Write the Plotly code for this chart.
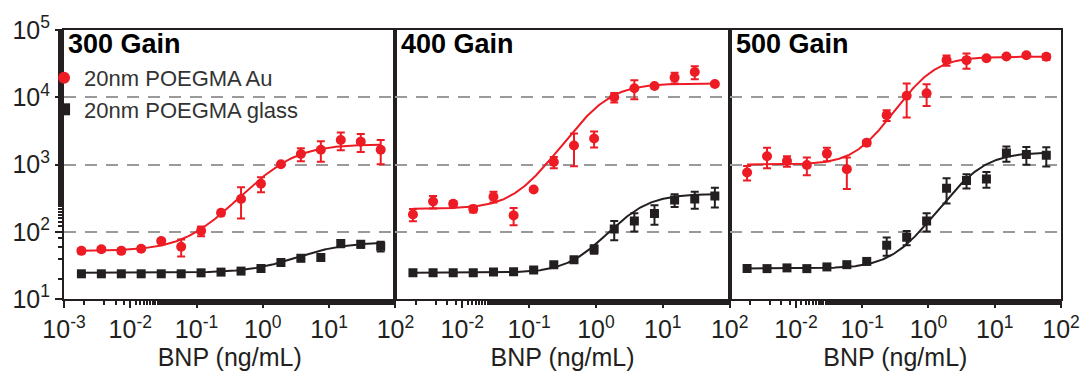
import numpy as np
import plotly.graph_objects as go
from plotly.subplots import make_subplots

# BNP concentrations (ng/mL), two-fold dilution series
bnp = [0.00183, 0.00366, 0.00732, 0.0146, 0.0293, 0.0586, 0.117, 0.234,
       0.469, 0.9375, 1.875, 3.75, 7.5, 15, 30, 60]
panel_titles = ["300 Gain", "400 Gain", "500 Gain"]
series_names = ["20nm POEGMA Au", "20nm POEGMA glass"]

# 300 gain
au_300 = [52, 55, 52, 56, 73, 60, 103, 191, 307, 518, 1007, 1430, 1655, 2310, 2186, 1655]
au_300_err = [4, 4, 4, 4, 5, 17, 17, 15, 150, 130, 60, 310, 560, 680, 650, 650]
glass_300 = [23.7, 23.7, 23.7, 23.7, 23.7, 23.7, 24.5, 25.1, 26, 28.3, 35, 40.5, 41.4, 66.6, 65, 60.8]
glass_300_err = [1, 1, 1, 1, 1, 1, 1, 1, 1, 1.5, 3, 4, 3, 8, 7, 10]

# 400 gain
au_400 = [180, 281, 260, 218, 332, 175, 424, 1087, 1914, 2440, 9980, 13600, 14700, 19600, 23700, 15700]
au_400_err = [37, 60, 25, 25, 60, 50, 20, 210, 970, 650, 1600, 4300, 700, 3600, 5200, 800]
glass_400 = [24.5, 24.5, 24.5, 24.5, 25.1, 25.4, 26.9, 32.4, 38.2, 55, 110, 145, 187, 297, 307, 340]
glass_400_err = [1, 1, 1, 1, 1, 1, 1.5, 2, 3, 8, 35, 44, 60, 63, 88, 110]

# 500 gain
au_500 = [762, 1327, 1124, 984, 1452, 853, 2113, 5420, 10500, 11500, 35600, 35600, 38100, 40300, 42100, 39900]
au_500_err = [185, 450, 200, 290, 330, 420, 200, 1000, 5500, 4100, 6300, 9000, 1500, 2000, 2500, 4000]
glass_500 = [28.3, 28.3, 29, 28.3, 30, 32.4, 36.2, 63, 83, 145, 443, 578, 611, 1479, 1403, 1371]
glass_500_err = [1, 1, 1, 1, 1, 1.5, 2, 19, 20, 44, 180, 140, 160, 380, 410, 440]

# four-parameter logistic fit parameters: bottom, top, EC50, Hill slope
fit_au_300 = [52, 2000, 1.9, 1.25]
fit_glass_300 = [24.5, 70, 5.0, 1.2]
fit_au_400 = [220, 16000, 1.2, 1.55]
fit_glass_400 = [24.5, 365, 3.55, 1.56]
fit_au_500 = [1000, 40000, 0.9, 1.73]
fit_glass_500 = [28.5, 1520, 4.95, 1.56]

x_ticks = [0.001, 0.01, 0.1, 1, 10, 100]
x_ticktext = ["10<sup>-3</sup>", "10<sup>-2</sup>", "10<sup>-1</sup>", "10<sup>0</sup>",
              "10<sup>1</sup>", "10<sup>2</sup>"]
y_ticks = [10, 100, 1000, 10000, 100000]
y_ticktext = ["10<sup>1</sup>", "10<sup>2</sup>", "10<sup>3</sup>", "10<sup>4</sup>", "10<sup>5</sup>"]

RED = "#ED1C24"
BLACK = "#231F20"
FONT = "Arial, Liberation Sans, sans-serif"

panels = [
    (au_300, au_300_err, glass_300, glass_300_err, fit_au_300, fit_glass_300),
    (au_400, au_400_err, glass_400, glass_400_err, fit_au_400, fit_glass_400),
    (au_500, au_500_err, glass_500, glass_500_err, fit_au_500, fit_glass_500),
]

def logistic(x, p):
    b, t, c, h = p
    x = np.asarray(x, dtype=float)
    return b + (t - b) / (1 + (c / x) ** h)

fig = make_subplots(rows=1, cols=3, shared_yaxes=True, horizontal_spacing=0)
doms = [[0, 0.3324], [0.3324, 0.6677], [0.6677, 1]]

xfit = np.logspace(np.log10(bnp[0]), np.log10(bnp[-1]), 300)

for i, (au, aue, gl, gle, fa, fg) in enumerate(panels):
    col = i + 1
    for yv, ye, fp, color, sym, size in [
        (gl, gle, fg, BLACK, "square", 9),
        (au, aue, fa, RED, "circle", 10),
    ]:
        fig.add_trace(go.Scatter(x=xfit, y=logistic(xfit, fp), mode="lines",
                                 line=dict(color=color, width=2), showlegend=False,
                                 hoverinfo="skip"), row=1, col=col)
        fig.add_trace(go.Scatter(x=bnp, y=yv, mode="markers",
                                 marker=dict(color=color, symbol=sym, size=size),
                                 error_y=dict(type="data", array=ye, color=color,
                                              thickness=2, width=4),
                                 showlegend=False), row=1, col=col)

# legend entries
fig.add_trace(go.Scatter(x=[None], y=[None], mode="markers", name=series_names[0],
                         marker=dict(color=RED, symbol="circle", size=8)), row=1, col=1)
fig.add_trace(go.Scatter(x=[None], y=[None], mode="markers", name=series_names[1],
                         marker=dict(color=BLACK, symbol="square", size=7)), row=1, col=1)

for i in range(3):
    xa = "xaxis" if i == 0 else f"xaxis{i+1}"
    tv = x_ticks if i == 0 else x_ticks[1:]
    tt = x_ticktext if i == 0 else x_ticktext[1:]
    fig.layout[xa].update(
        type="log", range=[-3, 2], domain=doms[i],
        tickvals=tv, ticktext=tt, ticks="outside", ticklen=7, tickwidth=2,
        tickcolor=BLACK, showline=True, linecolor=BLACK, linewidth=2, mirror=True,
        showgrid=False, zeroline=False,
        minor=dict(ticks="outside", ticklen=4, tickwidth=1.5, tickcolor=BLACK, showgrid=False),
        tickfont=dict(size=25, color=BLACK, family=FONT),
        title=dict(text="BNP (ng/mL)", font=dict(size=25, color=BLACK, family=FONT), standoff=2),
    )
    ya = "yaxis" if i == 0 else f"yaxis{i+1}"
    fig.layout[ya].update(
        type="log", range=[1, 5], showline=True, linecolor=BLACK, linewidth=2, mirror=True,
        tickvals=y_ticks, ticktext=y_ticktext,
        showgrid=True, gridcolor="#9A9A9A", gridwidth=2, griddash="12px,9px",
        zeroline=False,
    )

fig.layout.yaxis.update(
    ticks="outside", ticklen=7, tickwidth=2,
    tickcolor=BLACK, tickfont=dict(size=25, color=BLACK, family=FONT),
    minor=dict(ticks="outside", ticklen=4, tickwidth=1.5, tickcolor=BLACK, showgrid=False),
)
for ya in ["yaxis2", "yaxis3"]:
    fig.layout[ya].update(showticklabels=False, ticks="")

title_x = [0.002, 0.3364, 0.6717]
for i, t in enumerate(panel_titles):
    fig.add_annotation(text=f"<b>{t}</b>", xref="paper", yref="paper", x=title_x[i], y=1.01,
                       xanchor="left", yanchor="top", showarrow=False,
                       font=dict(size=27, color="black", family=FONT))

fig.update_layout(
    width=1092, height=375, margin=dict(l=55, r=20, t=25, b=73),
    paper_bgcolor="white", plot_bgcolor="white",
    font=dict(family=FONT, color=BLACK),
    legend=dict(x=-0.02, y=0.9, xanchor="left", yanchor="top", bgcolor="rgba(0,0,0,0)",
                font=dict(size=22, color="#333333", family=FONT), tracegroupgap=0,
                itemsizing="constant"),
)

fig.write_html("out.html")
